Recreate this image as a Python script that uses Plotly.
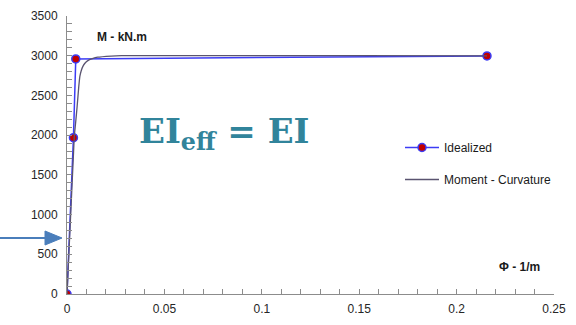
import plotly.graph_objects as go

# Idealized bilinear curve
ideal_phi = [0.0, 0.0033, 0.0045, 0.2156]
ideal_m = [0, 1968, 2960, 2997]

# Moment-curvature curve
mc_phi = [0.0, 0.0037, 0.0044, 0.0052, 0.0060, 0.0066, 0.0073, 0.0081, 0.0092,
          0.0107, 0.0130, 0.0158, 0.0227, 0.0280, 0.0500, 0.1000, 0.1500, 0.2156]
mc_m = [0, 1968, 2150, 2360, 2600, 2740, 2810, 2863, 2905,
        2938, 2962, 2981, 2995, 3000, 3002, 3001, 3000, 2999]

x_ticks = [0, 0.05, 0.1, 0.15, 0.2, 0.25]
x_labels = ["0", "0.05", "0.1", "0.15", "0.2", "0.25"]
y_ticks = [0, 500, 1000, 1500, 2000, 2500, 3000, 3500]

L, R, T, B = 67, 22, 16, 31
W, H = 576, 325
PW, PH = W - L - R, H - T - B

def px(x):
    return (x - L) / PW

def py(y):
    return (H - B - y) / PH

fig = go.Figure()
fig.add_trace(go.Scatter(
    x=ideal_phi, y=ideal_m, mode="lines+markers", name="Idealized",
    line=dict(color="#3c3cf5", width=1.5),
    marker=dict(color="#c00000", size=8, line=dict(color="#3c3cf5", width=1.5)),
    legendgroup="a",
))
fig.add_trace(go.Scatter(
    x=mc_phi, y=mc_m, mode="lines", name="Moment - Curvature",
    line=dict(color="#5a5470", width=1.3, shape="spline", smoothing=0.5),
    legendgroup="b",
))

font_lbl = dict(family="Liberation Sans, Arial, sans-serif", size=12, color="#262626")

fig.update_layout(
    width=W, height=H,
    margin=dict(l=L, r=R, t=T, b=B, autoexpand=False),
    paper_bgcolor="white", plot_bgcolor="white",
    showlegend=True,
    legend=dict(x=px(400), y=py(133), xanchor="left", yanchor="top",
                font=dict(family="Liberation Sans, Arial, sans-serif", size=12, color="#1a1a1a"),
                tracegroupgap=13, itemwidth=34, bgcolor="rgba(0,0,0,0)"),
    xaxis=dict(range=[0, 0.25], tickvals=x_ticks, ticktext=x_labels, automargin=False,
               showgrid=False, zeroline=False, showline=True, linecolor="#8c8c8c", linewidth=1,
               ticks="inside", ticklen=5, tickcolor="#8c8c8c",
               minor=dict(dtick=0.01, ticks="inside", ticklen=5, tickcolor="#8c8c8c"),
               tickfont=font_lbl, ticklabelstandoff=4),
    yaxis=dict(range=[0, 3500], tickvals=y_ticks, automargin=False,
               showgrid=False, zeroline=False, showline=True, linecolor="#8c8c8c", linewidth=1,
               ticks="inside", ticklen=5, tickcolor="#8c8c8c",
               minor=dict(dtick=100, ticks="inside", ticklen=5, tickcolor="#8c8c8c"),
               tickfont=font_lbl, ticklabelstandoff=6),
)

fig.add_annotation(x=px(122), y=py(37), xref="paper", yref="paper", showarrow=False,
                   xanchor="center", yanchor="middle",
                   text="<b>M - kN.m</b>", font=dict(family="Liberation Sans, Arial, sans-serif", size=12, color="#1a1a1a"))
fig.add_annotation(x=px(519), y=py(267), xref="paper", yref="paper", showarrow=False,
                   xanchor="center", yanchor="middle",
                   text="<b>Φ - 1/m</b>", font=dict(family="Liberation Sans, Arial, sans-serif", size=12, color="#1a1a1a"))
fig.add_annotation(x=px(224), y=py(133), xref="paper", yref="paper", showarrow=False,
                   xanchor="center", yanchor="middle",
                   text="<b>EI<sub>eff</sub> = EI</b>",
                   font=dict(family="DejaVu Serif, Liberation Serif, serif", size=34, color="#31849b"))

# blue arrow at left
fig.add_shape(type="line", xref="paper", yref="paper",
              x0=px(0), y0=py(238), x1=px(48), y1=py(238),
              line=dict(color="#4a7ebb", width=2))
fig.add_shape(type="path", xref="paper", yref="paper",
              path=f"M {px(45)} {py(231)} L {px(62)} {py(238)} L {px(45)} {py(245)} Z",
              fillcolor="#4a7ebb", line=dict(color="#4a7ebb", width=1))

fig.write_html("out.html", config={"displayModeBar": False},
               post_script="document.body.style.margin='0';document.body.style.overflow='hidden';")
